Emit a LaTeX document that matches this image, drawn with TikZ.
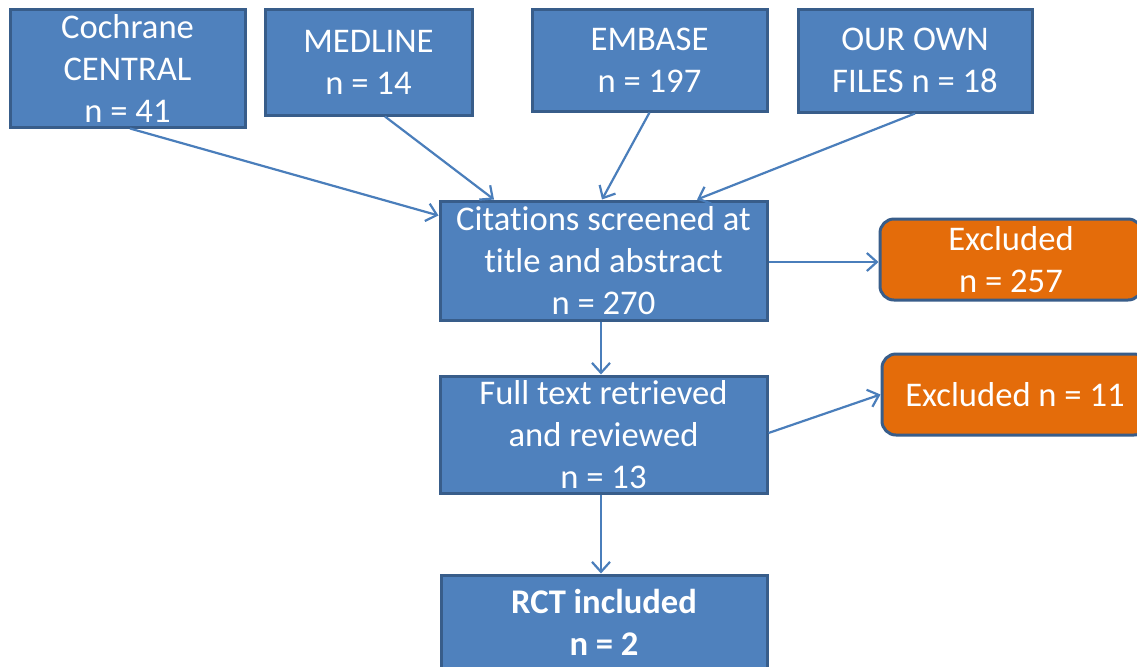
\documentclass[tikz,border=0pt]{standalone}
\usepackage{fontspec}
\setmainfont{Carlito}[Ligatures={NoCommon}]
\usetikzlibrary{arrows.meta,calc}
\definecolor{boxfill}{HTML}{4F81BD}
\definecolor{boxline}{HTML}{385D8A}
\definecolor{exfill}{HTML}{E46C0A}
\definecolor{arrline}{HTML}{4A7EBB}
\tikzset{
  box/.style={draw=boxline, fill=boxfill, line width=1.5pt, inner sep=0pt, align=center,
    text=white, font=\fontsize{17.3}{21}\selectfont},
  exbox/.style={box, fill=exfill, rounded corners=7pt},
  conn/.style={draw=arrline, line width=1.1pt, -{Straight Barb[length=5pt,width=9pt,line width=1.1pt]}}
}
\begin{document}
\begin{tikzpicture}[x=0.5pt,y=-0.5pt]
\clip (0,0) rectangle (1137,666);
\fill[white] (0,0) rectangle (1137,666);
\node[box, minimum width=117.5pt, minimum height=59pt] (coch) at (127.5,68) {Cochrane\\CENTRAL\\n = 41};
\node[box, minimum width=103.5pt, minimum height=53pt] (med) at (368.5,62) {MEDLINE\\n = 14};
\node[box, minimum width=117.5pt, minimum height=51pt] (emb) at (649.5,60) {EMBASE\\n = 197};
\node[box, minimum width=117pt, minimum height=51.5pt] (own) at (915,60.5) {OUR OWN\\FILES n = 18};
\node[box, minimum width=163.5pt, minimum height=59.5pt] (cit) at (603.5,260.5) {Citations screened at\\title and abstract\\n = 270};
\node[exbox, minimum width=131pt, minimum height=40.5pt] (ex1) at (1011,259.5) {Excluded\\n = 257};
\node[box, minimum width=163.5pt, minimum height=58.5pt] (full) at (603.5,434.5) {Full text retrieved\\and reviewed\\n = 13};
\node[exbox, minimum width=133pt, minimum height=40.5pt] (ex2) at (1015,394.5) {Excluded n = 11};
\node[box, minimum width=163pt, minimum height=47.5pt, font=\fontsize{17.3}{21}\selectfont\bfseries] (rct) at (604,622.5) {RCT included\\n = 2};
\draw[conn] ($(coch.south)+(2.5,0)$) -- ($(cit.west)+(0,-45)$);
\draw[conn] ($(med.south)+(16.5,0)$) -- ($(cit.north)+(-109.5,0)$);
\draw[conn] (emb.south) -- ($(cit.north)+(-1.5,0)$);
\draw[conn] (own.south) -- ($(cit.north)+(93.5,0)$);
\draw[conn] ($(cit.east)+(0,1.5)$) -- ($(ex1.west)+(0,2.5)$);
\draw[conn] ($(cit.south)+(-2.5,0)$) -- ($(full.north)+(-2.5,0)$);
\draw[conn] ($(full.east)+(0,-1.5)$) -- (ex2.west);
\draw[conn] ($(full.south)+(-2.5,0)$) -- ($(rct.north)+(-3,0)$);
\end{tikzpicture}
\end{document}
